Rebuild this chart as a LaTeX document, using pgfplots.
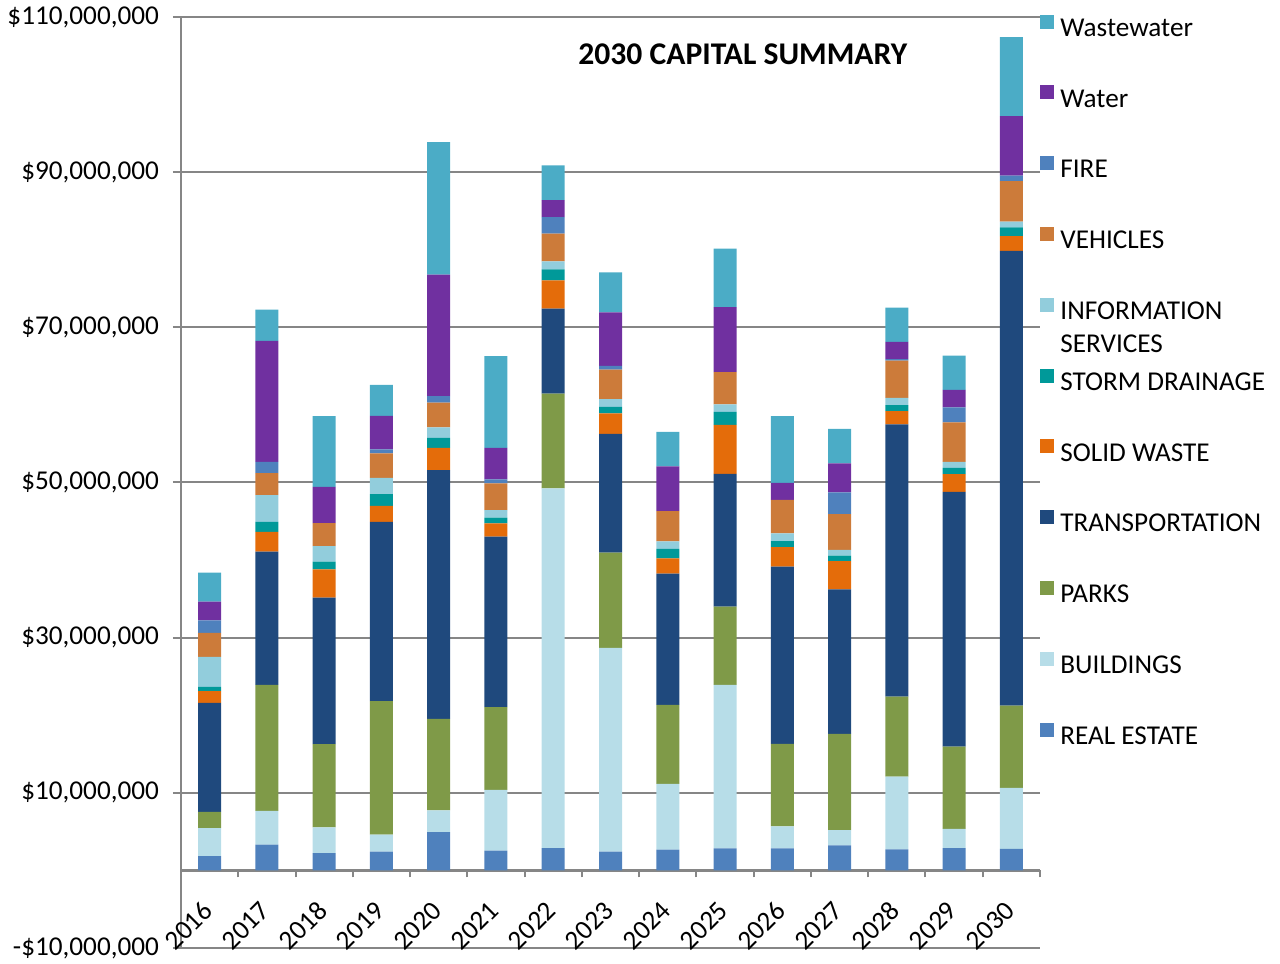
\documentclass[border=0pt]{standalone}
\usepackage{fontspec}
\setmainfont{Carlito}
\usepackage{pgfplots}
\usepackage{pgfplotstable}
\pgfplotsset{compat=1.18}

\definecolor{cWW}{HTML}{4BACC6}
\definecolor{cWater}{HTML}{7030A0}
\definecolor{cFire}{HTML}{4F81BD}
\definecolor{cVeh}{HTML}{CC7B3A}
\definecolor{cInfo}{HTML}{92CDDC}
\definecolor{cStorm}{HTML}{009999}
\definecolor{cSolid}{HTML}{E46C0A}
\definecolor{cTrans}{HTML}{1F497D}
\definecolor{cParks}{HTML}{7F9A48}
\definecolor{cBld}{HTML}{B7DDE8}
\definecolor{cRE}{HTML}{4F81BD}
\definecolor{cGrid}{RGB}{134,134,134}

% values in millions of dollars
\pgfplotstableread{
x  RE   Bld   Parks Trans Solid Storm Info Veh  Fire Water WW
0  1.85 3.61  2.10  14.03 1.51  0.55  3.87 3.09 1.63 2.40  3.73
1  3.31 4.38  16.22 17.17 2.57  1.29  3.44 2.83 1.46 15.58 4.04
2  2.24 3.30  10.74 18.87 3.66  0.98  2.02 2.96 0    4.68  9.10
3  2.41 2.19  17.21 23.13 2.06  1.51  2.10 3.14 0.51 4.33  3.99
4  4.94 2.79  11.80 32.07 2.87  1.29  1.33 3.22 0.82 15.67 17.07
5  2.54 7.85  10.65 21.97 1.72  0.73  0.99 3.43 0.52 4.07  11.81
6  2.88 46.36 12.23 10.95 3.64  1.42  1.03 3.56 2.14 2.19  4.47
7  2.41 26.27 12.27 15.32 2.63  0.85  0.99 3.82 0.47 6.91  5.15
8  2.67 8.49  10.18 16.91 1.97  1.24  0.95 3.91 0    5.75  4.46
9  2.83 21.08 10.09 17.12 6.31  1.67  0.96 4.16 0    8.40  7.52
10 2.83 2.84  10.64 22.84 2.53  0.77  0.99 4.33 0    2.19  8.59
11 3.22 1.98  12.40 18.63 3.65  0.68  0.74 4.63 2.79 3.74  4.45
12 2.70 9.40  10.31 35.07 1.71  0.78  0.94 4.81 0.17 2.23  4.43
13 2.88 2.49  10.60 32.83 2.28  0.81  0.78 5.07 1.93 2.27  4.42
14 2.79 7.86  10.60 58.59 1.93  1.12  0.73 5.23 0.69 7.68  10.17
}\datatable

\begin{document}
\begin{tikzpicture}[font=\fontsize{13.6}{16.5}\selectfont]
\useasboundingbox (-90.5pt,-8pt) rectangle (549.5pt,474pt);
\begin{axis}[
  at={(0pt,0pt)}, anchor=south west,
  scale only axis,
  width=429.5pt, height=465.5pt,
  ybar stacked, bar width=11.5pt,
  xmin=-0.5, xmax=14.5, ymin=-10, ymax=110,
  enlargelimits=false,
  axis x line*=middle, axis y line*=left,
  axis line style={cGrid, line width=1.2pt},
  tick align=outside,
  major tick length=4pt, minor tick length=3.5pt,
  tick style={cGrid, line width=1pt},
  every major x tick/.append style={draw=none},
  xtick={0,...,14},
  minor xtick={-0.5,0.5,...,14.5},
  xticklabels={2016,2017,2018,2019,2020,2021,2022,2023,2024,2025,2026,2027,2028,2029,2030},
  xticklabel style={rotate=45, anchor=east, inner sep=1pt},
  xticklabel shift=13pt,
  ytick={-10,10,30,50,70,90,110},
  yticklabels={{-\$10,000,000},{\$10,000,000},{\$30,000,000},{\$50,000,000},{\$70,000,000},{\$90,000,000},{\$110,000,000}},
  yticklabel style={xshift=-3.5pt},
  ymajorgrids,
  major grid style={cGrid, line width=1pt},
  legend style={at={(1.0,1.003)}, anchor=north west, draw=none, fill=none,
    inner sep=0pt, row sep=21.6pt,
    nodes={inner sep=0pt, text height=9pt, text depth=3pt}},
  legend cell align=left,
  reverse legend,
  legend image code/.code={\fill[#1,draw=none] (1pt,0.8pt) rectangle (8pt,7.8pt); \path (11pt,0pt);},
]
\addplot[fill=cRE, draw=none] table[x=x,y=RE]{\datatable};
\addlegendentry{REAL ESTATE}
\addplot[fill=cBld, draw=none] table[x=x,y=Bld]{\datatable};
\addlegendentry{BUILDINGS}
\addplot[fill=cParks, draw=none] table[x=x,y=Parks]{\datatable};
\addlegendentry{PARKS}
\addplot[fill=cTrans, draw=none] table[x=x,y=Trans]{\datatable};
\addlegendentry{TRANSPORTATION}
\addplot[fill=cSolid, draw=none] table[x=x,y=Solid]{\datatable};
\addlegendentry{SOLID WASTE}
\addplot[fill=cStorm, draw=none] table[x=x,y=Storm]{\datatable};
\addlegendentry{STORM DRAINAGE}
\addplot[fill=cInfo, draw=none] table[x=x,y=Info]{\datatable};
\addlegendentry{\smash{\begin{tabular}[t]{@{}l@{}}INFORMATION\\SERVICES\end{tabular}}}
\addplot[fill=cVeh, draw=none] table[x=x,y=Veh]{\datatable};
\addlegendentry{VEHICLES}
\addplot[fill=cFire, draw=none] table[x=x,y=Fire]{\datatable};
\addlegendentry{FIRE}
\addplot[fill=cWater, draw=none] table[x=x,y=Water]{\datatable};
\addlegendentry{Water}
\addplot[fill=cWW, draw=none] table[x=x,y=WW]{\datatable};
\addlegendentry{Wastewater}
\node[font=\bfseries\fontsize{15.8}{19}\selectfont] at (rel axis cs:0.654,0.960) {2030 CAPITAL SUMMARY};
\end{axis}
\end{tikzpicture}
\end{document}
